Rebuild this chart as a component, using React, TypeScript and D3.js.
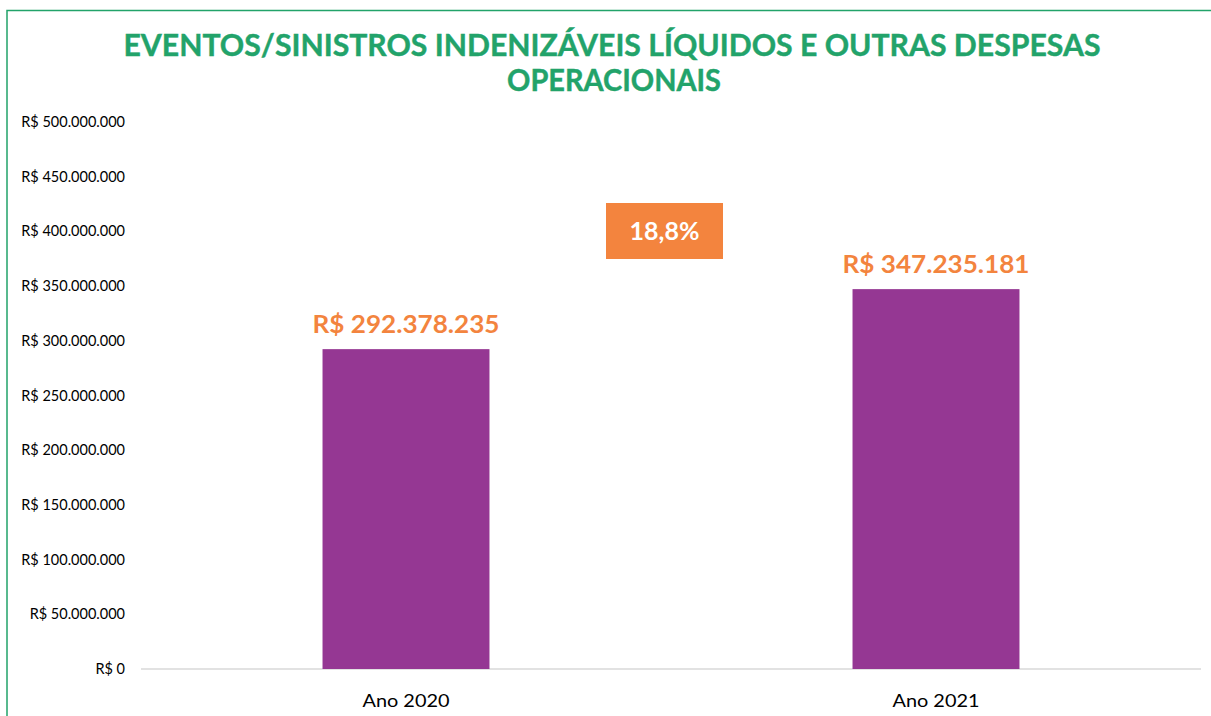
import React from "react";
import * as d3 from "d3";

const categories = ["Ano 2020", "Ano 2021"];
const values = [292378235, 347235181];
const valueLabels = ["R$ 292.378.235", "R$ 347.235.181"];
const yTicks = [0, 50000000, 100000000, 150000000, 200000000, 250000000, 300000000, 350000000, 400000000, 450000000, 500000000];
const titleLines = ["EVENTOS/SINISTROS INDENIZÁVEIS LÍQUIDOS E OUTRAS DESPESAS", "OPERACIONAIS"];
const changeLabel = "18,8%";

const W = 1211, H = 716;
const FONT = "Lato, 'Open Sans', sans-serif";

function fmt(v: number) {
  if (v === 0) return "R$ 0";
  return "R$ " + d3.format(",")(v).replace(/,/g, ".");
}

export default function App() {
  const x = d3.scaleBand().domain(categories).range([141, 1201]).paddingInner(0.685).paddingOuter(0.3425);
  const y = d3.scaleLinear().domain([0, 500000000]).range([669, 122]);
  const green = "#22A36A";
  const orange = "#F3843E";
  const purple = "#953793";
  return (
    <svg width={W} height={H} style={{ position: "fixed", left: 0, top: 0, background: "#fff" }} fontFamily={FONT}>
      <rect x={0} y={0} width={W} height={H} fill="#fff" />
      <rect x={7} y={10.5} width={W + 10} height={H + 10} fill="none" stroke={green} strokeWidth={1.5} />
      <text x={612} y={56} textAnchor="middle" fontSize={30} fontWeight="bold" fill={green} stroke={green} strokeWidth={0.4} textLength={977} lengthAdjust="spacingAndGlyphs">{titleLines[0]}</text>
      <text x={614} y={91} textAnchor="middle" fontSize={30} fontWeight="bold" fill={green} stroke={green} strokeWidth={0.4} textLength={214} lengthAdjust="spacingAndGlyphs">{titleLines[1]}</text>
      {yTicks.map((t) => (
        <text key={t} x={125} y={y(t) + 5} textAnchor="end" fontSize={14.5} fill="#000">{fmt(t)}</text>
      ))}
      <line x1={141} x2={1201} y1={y(0)} y2={y(0)} stroke="#d9d9d9" strokeWidth={1.5} />
      {categories.map((c, i) => {
        const bx = x(c)!;
        const bw = x.bandwidth();
        return (
          <g key={c}>
            <rect x={bx} y={y(values[i])} width={bw} height={y(0) - y(values[i])} fill={purple} />
            <text x={bx + bw / 2} y={y(values[i]) - 16} textAnchor="middle" fontSize={25} fontWeight="bold" fill={orange} textLength={187} lengthAdjust="spacingAndGlyphs">{valueLabels[i]}</text>
            <text x={bx + bw / 2} y={707} textAnchor="middle" fontSize={18} fill="#000" textLength={87} lengthAdjust="spacingAndGlyphs">{c}</text>
          </g>
        );
      })}
      <rect x={606} y={203} width={117} height={56} fill={orange} />
      <text x={664.5} y={240} textAnchor="middle" fontSize={25} fontWeight="bold" fill="#fff">{changeLabel}</text>
    </svg>
  );
}
